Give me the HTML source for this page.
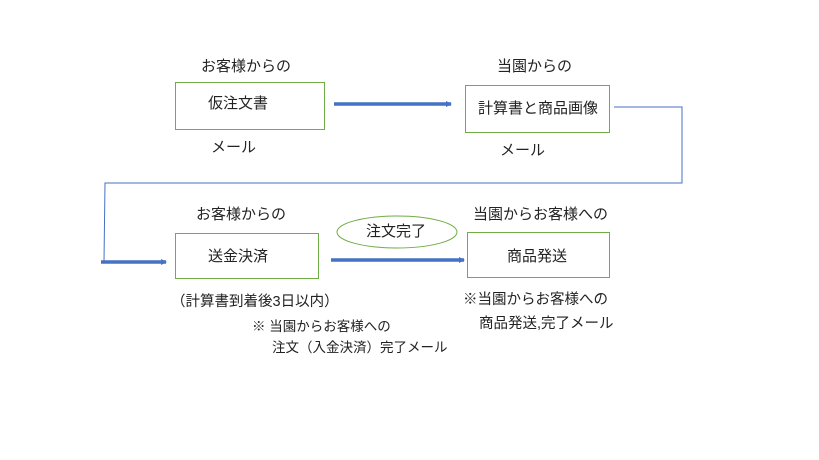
<!DOCTYPE html>
<html><head><meta charset="utf-8"><style>
body{margin:0;background:#fff;}
.c{position:relative;width:819px;height:460px;overflow:hidden;font-family:"Liberation Sans","Noto Sans CJK JP",sans-serif;font-size:15px;color:#222;}
.t{position:absolute;white-space:nowrap;line-height:18px;}
.s{font-size:13.5px;}
.b{position:absolute;border:1px solid #70ad47;box-sizing:border-box;}
</style></head><body><div class="c">
<svg width="819" height="460" style="position:absolute;left:0;top:0">
<defs><marker id="a" markerUnits="userSpaceOnUse" markerWidth="8" markerHeight="8" refX="5" refY="4" orient="auto"><path d="M0,1 L6,4 L0,7z" fill="#4472c4"/></marker></defs>
<line x1="334" y1="104" x2="451" y2="104" stroke="#4472c4" stroke-width="3.5" marker-end="url(#a)"/>
<line x1="331" y1="260" x2="464" y2="260" stroke="#4472c4" stroke-width="3.5" marker-end="url(#a)"/>
<line x1="101" y1="262" x2="166" y2="262" stroke="#4472c4" stroke-width="3.5" marker-end="url(#a)"/>
<polyline points="614,107 682,107 682,183 105,183 104,262" fill="none" stroke="#4472c4" stroke-width="1"/>
<ellipse cx="397" cy="232" rx="60" ry="16" fill="#fff" stroke="#70ad47" stroke-width="1"/>
</svg>
<div class="b" style="left:175px;top:82px;width:150px;height:48px"></div>
<div class="b" style="left:465px;top:85px;width:145px;height:48px"></div>
<div class="b" style="left:175px;top:233px;width:144px;height:46px"></div>
<div class="b" style="left:467px;top:232px;width:143px;height:46px"></div>
<div class="t" style="left:201px;top:58px">お客様からの</div>
<div class="t" style="left:208px;top:95px">仮注文書</div>
<div class="t" style="left:497px;top:58px">当園からの</div>
<div class="t" style="left:478px;top:100px">計算書と商品画像</div>
<div class="t" style="left:211px;top:139px">メール</div>
<div class="t" style="left:500px;top:142px">メール</div>
<div class="t" style="left:196px;top:206px">お客様からの</div>
<div class="t" style="left:208px;top:248px">送金決済</div>
<div class="t" style="left:366px;top:223px">注文完了</div>
<div class="t" style="left:473px;top:206px">当園からお客様への</div>
<div class="t" style="left:507px;top:248px">商品発送</div>
<div class="t" style="left:171px;top:293px;font-size:14.5px">（計算書到着後3日以内）</div>
<div class="t s" style="left:252px;top:318px">※ 当園からお客様への</div>
<div class="t s" style="left:272px;top:339px">注文（入金決済）完了メール</div>
<div class="t" style="left:463px;top:291px;font-size:14.5px">※当園からお客様への</div>
<div class="t" style="left:479px;top:315px;font-size:14.5px">商品発送,完了メール</div>
</div></body></html>
